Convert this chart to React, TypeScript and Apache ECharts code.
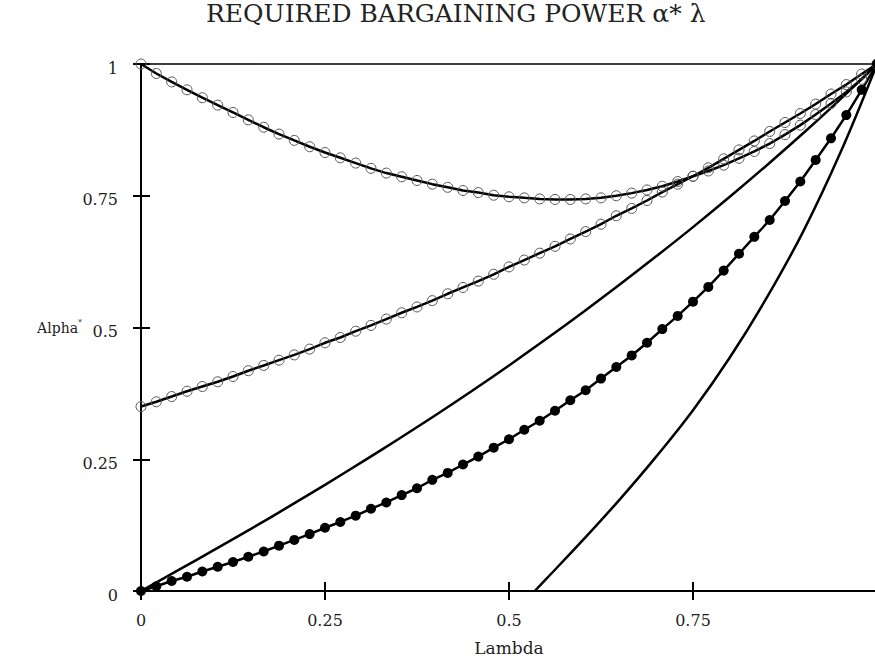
import React, { useEffect, useRef } from "react";
import * as echarts from "echarts";

const lambdaGrid = [
  0, 0.0208, 0.0417, 0.0625, 0.0833, 0.1042, 0.125, 0.1458, 0.1667, 0.1875,
  0.2083, 0.2292, 0.25, 0.2708, 0.2917, 0.3125, 0.3333, 0.3542, 0.375, 0.3958,
  0.4167, 0.4375, 0.4583, 0.4792, 0.5, 0.5208, 0.5417, 0.5625, 0.5833, 0.6042,
  0.625, 0.6458, 0.6667, 0.6875, 0.7083, 0.7292, 0.75, 0.7708, 0.7917, 0.8125,
  0.8333, 0.8542, 0.875, 0.8958, 0.9167, 0.9375, 0.9583, 0.9792, 1,
];

const alphaTop = [
  1.0, 0.982, 0.966, 0.951, 0.936, 0.922, 0.908, 0.894, 0.88, 0.867,
  0.855, 0.843, 0.832, 0.822, 0.812, 0.802, 0.793, 0.786, 0.779, 0.772,
  0.766, 0.76, 0.756, 0.751, 0.748, 0.746, 0.744, 0.743, 0.743, 0.744,
  0.746, 0.75, 0.755, 0.761, 0.768, 0.777, 0.787, 0.797, 0.808, 0.821,
  0.834, 0.849, 0.866, 0.884, 0.904, 0.925, 0.947, 0.971, 1.0,
];

const alphaMid = [
  0.35, 0.359, 0.369, 0.379, 0.388, 0.397, 0.407, 0.418, 0.428, 0.438,
  0.448, 0.459, 0.471, 0.481, 0.493, 0.504, 0.516, 0.528, 0.539, 0.551,
  0.564, 0.576, 0.588, 0.601, 0.615, 0.628, 0.641, 0.654, 0.668, 0.682,
  0.696, 0.712, 0.726, 0.741, 0.757, 0.772, 0.787, 0.803, 0.82, 0.837,
  0.854, 0.872, 0.889, 0.906, 0.924, 0.943, 0.961, 0.981, 1.0,
];

const alphaDots = [
  0.0, 0.009, 0.019, 0.027, 0.037, 0.046, 0.055, 0.065, 0.075, 0.086,
  0.097, 0.108, 0.12, 0.131, 0.143, 0.156, 0.168, 0.182, 0.195, 0.211,
  0.224, 0.24, 0.255, 0.272, 0.288, 0.306, 0.323, 0.342, 0.362, 0.381,
  0.403, 0.425, 0.447, 0.471, 0.497, 0.522, 0.549, 0.577, 0.608, 0.64,
  0.672, 0.704, 0.74, 0.777, 0.818, 0.859, 0.903, 0.951, 1.0,
];

const lambdaPlain = [
  0, 0.05, 0.1, 0.15, 0.2, 0.25, 0.3, 0.35, 0.4, 0.45, 0.5,
  0.55, 0.6, 0.65, 0.7, 0.75, 0.8, 0.85, 0.9, 0.95, 1,
];
const alphaPlain = [
  0, 0.039, 0.0785, 0.1185, 0.1595, 0.2015, 0.2445, 0.2885, 0.3335, 0.38, 0.428,
  0.4775, 0.5285, 0.581, 0.635, 0.6905, 0.748, 0.8075, 0.869, 0.933, 1.0,
];

const lambdaSteep = [0.535, 0.55, 0.6, 0.65, 0.7, 0.75, 0.8, 0.85, 0.9, 0.95, 1];
const alphaSteep = [0, 0.022, 0.096, 0.173, 0.255, 0.343, 0.443, 0.556, 0.683, 0.831, 1.0];

const xTicks = [0, 0.25, 0.5, 0.75];
const yTicks = [0, 0.25, 0.5, 0.75, 1];

const TITLE = "REQUIRED BARGAINING POWER α* λ";
const FONT = "DejaVu Serif";

const zip = (xs: number[], ys: number[]) => xs.map((x, i) => [x, ys[i]]);

export default function App() {
  const ref = useRef<HTMLDivElement>(null);
  useEffect(() => {
    if (!ref.current) return;
    const chart = echarts.init(ref.current, null, { renderer: "svg" });
    const axisText = { fontFamily: FONT, fontSize: 16, color: "#222" };
    const black = { color: "#000", width: 2 };
    const option: any = {
      animation: false,
      backgroundColor: "#fff",
      title: {
        text: TITLE,
        left: 206,
        top: 1,
        padding: 0,
        textStyle: { fontFamily: FONT, fontSize: 25, fontWeight: "normal", color: "#222" },
      },
      grid: {
        left: 141, top: 64, width: 736, height: 527,
        containLabel: false, outerBoundsMode: "none",
      },
      xAxis: [
        {
          type: "value", min: 0, max: 1, interval: 0.25, position: "bottom",
          axisLine: { show: true, onZero: false, lineStyle: black },
          axisTick: { show: true, inside: false, length: 9, lineStyle: black },
          axisLabel: {
            margin: 21, ...axisText,
            formatter: (v: number) => (xTicks.includes(v) ? String(v) : ""),
          },
          splitLine: { show: false },
          name: "Lambda", nameLocation: "middle", nameGap: 48, nameMoveOverlap: false,
          nameTextStyle: { fontFamily: FONT, fontSize: 17, color: "#222" },
        },
        {
          type: "value", min: 0, max: 1, interval: 0.25, position: "bottom",
          axisLine: { show: false, onZero: false },
          axisTick: { show: true, inside: true, length: 9, lineStyle: black },
          axisLabel: { show: false }, splitLine: { show: false },
        },
        {
          type: "value", min: 0, max: 1, position: "top",
          axisLine: { show: true, onZero: false, lineStyle: { color: "#000", width: 1.5 } },
          axisTick: { show: false }, axisLabel: { show: false }, splitLine: { show: false },
        },
      ],
      yAxis: [
        {
          type: "value", min: 0, max: 1, interval: 0.25, position: "left",
          axisLine: { show: true, onZero: false, lineStyle: black },
          axisTick: { show: true, inside: false, length: 8, lineStyle: black },
          axisLabel: {
            margin: 23, ...axisText, verticalAlign: "top", lineHeight: 8,
            formatter: (v: number) => (yTicks.includes(v) ? String(v) : ""),
          },
          splitLine: { show: false },
          name: "{a|Alpha}{s|*}", nameLocation: "middle", nameRotate: 0, nameGap: 59,
          nameMoveOverlap: false,
          nameTextStyle: {
            rich: {
              a: { fontFamily: FONT, fontSize: 14, color: "#222", lineHeight: 18 },
              s: { fontFamily: FONT, fontSize: 8, color: "#222", verticalAlign: "top", lineHeight: 18 },
            },
          },
        },
        {
          type: "value", min: 0, max: 1, interval: 0.25, position: "left",
          axisLine: { show: false, onZero: false },
          axisTick: { show: true, inside: true, length: 9, lineStyle: black },
          axisLabel: { show: false }, splitLine: { show: false },
        },
      ],
      series: [
        {
          name: "Top", type: "line", data: zip(lambdaGrid, alphaTop),
          symbol: "circle", symbolSize: 10, showAllSymbol: true,
          lineStyle: { color: "#000", width: 2.5 },
          itemStyle: { color: "rgba(0,0,0,0)", borderColor: "#555", borderWidth: 1 },
        },
        {
          name: "Mid", type: "line", data: zip(lambdaGrid, alphaMid),
          symbol: "circle", symbolSize: 10, showAllSymbol: true,
          lineStyle: { color: "#000", width: 2.5 },
          itemStyle: { color: "rgba(0,0,0,0)", borderColor: "#555", borderWidth: 1 },
        },
        {
          name: "Plain", type: "line", data: zip(lambdaPlain, alphaPlain),
          smooth: 0.4, showSymbol: false,
          lineStyle: { color: "#000", width: 2.5 },
        },
        {
          name: "Dots", type: "line", data: zip(lambdaGrid, alphaDots),
          symbol: "circle", symbolSize: 10, showAllSymbol: true,
          lineStyle: { color: "#000", width: 2.5 },
          itemStyle: { color: "#000" },
        },
        {
          name: "Steep", type: "line", data: zip(lambdaSteep, alphaSteep),
          smooth: 0.4, showSymbol: false,
          lineStyle: { color: "#000", width: 2.5 },
        },
      ],
    };
    chart.setOption(option);
    return () => chart.dispose();
  }, []);
  return (
    <div
      ref={ref}
      style={{ position: "absolute", left: 0, top: 0, width: 875, height: 657 }}
    />
  );
}
